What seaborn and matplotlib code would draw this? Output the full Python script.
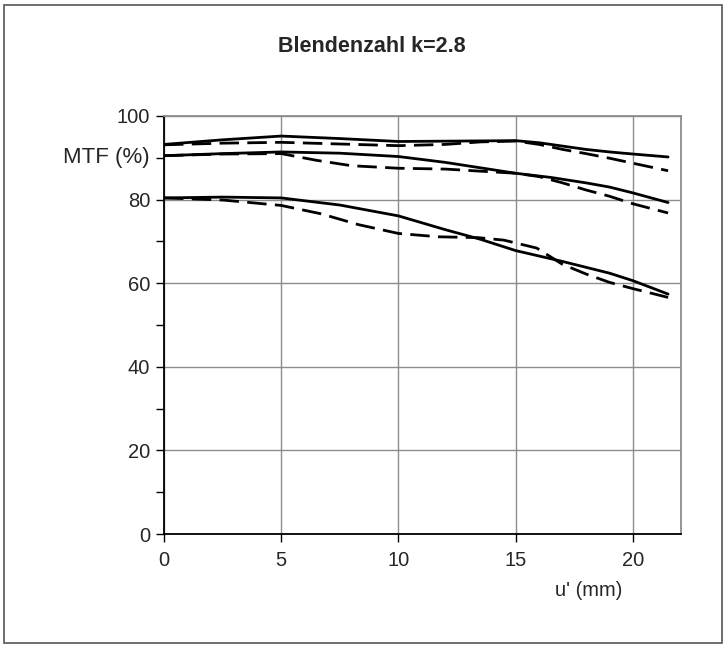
import numpy as np
import pandas as pd
import matplotlib
matplotlib.use('Agg')
import matplotlib.pyplot as plt
import seaborn as sns
from matplotlib.patches import Rectangle
from matplotlib.ticker import MultipleLocator

sns.set_style('white')
plt.rcParams['font.family'] = ['Liberation Sans', 'DejaVu Sans']

# MTF-Kurven, je Ortsfrequenz eine durchgezogene und eine gestrichelte Kurve
u_top_s = [0, 2.5, 5, 7.5, 10, 12.5, 15, 16, 17, 18, 19, 20, 21.5]
mtf_top_s = [93.2, 94.3, 95.2, 94.6, 93.9, 94.0, 94.1, 93.6, 92.8, 92.0, 91.4, 90.9, 90.2]
u_top_d = [0, 2.5, 5, 7.5, 10, 12, 13.5, 15, 16, 17, 18, 19, 20, 21.5]
mtf_top_d = [93.1, 93.5, 93.7, 93.3, 92.9, 93.2, 93.8, 94.0, 93.2, 92.0, 91.0, 89.9, 88.7, 86.9]

u_mid_s = [0, 2.5, 5, 7.5, 10, 12, 13.5, 15, 16.5, 18, 19, 20, 21.5]
mtf_mid_s = [90.5, 91.0, 91.4, 91.1, 90.3, 88.9, 87.6, 86.3, 85.3, 84.0, 83.0, 81.6, 79.3]
u_mid_d = [0, 2.5, 5, 6.5, 8, 10, 12, 13.5, 15, 16, 17, 18, 19, 20, 21.5]
mtf_mid_d = [90.5, 90.9, 91.0, 89.4, 88.1, 87.5, 87.3, 86.8, 86.3, 85.5, 84.0, 82.3, 80.8, 79.0, 76.8]

u_low_s = [0, 2.5, 5, 7.5, 10, 12, 13.5, 15, 17, 19, 20, 21.5]
mtf_low_s = [80.4, 80.6, 80.4, 78.7, 76.1, 72.8, 70.5, 67.8, 65.2, 62.4, 60.6, 57.4]
u_low_d = [0, 2.5, 5, 6.7, 8.3, 10, 11.7, 13.4, 14.5, 15.9, 17, 18, 19, 20, 21.5]
mtf_low_d = [80.4, 79.9, 78.6, 76.6, 74.0, 71.9, 71.1, 70.9, 70.3, 68.4, 64.5, 62.2, 60.2, 58.7, 56.6]

curves = [
    ('oben', 'solid', u_top_s, mtf_top_s),
    ('oben', 'dashed', u_top_d, mtf_top_d),
    ('mitte', 'solid', u_mid_s, mtf_mid_s),
    ('mitte', 'dashed', u_mid_d, mtf_mid_d),
    ('unten', 'solid', u_low_s, mtf_low_s),
    ('unten', 'dashed', u_low_d, mtf_low_d),
]
rows = []
for name, kind, us, ms in curves:
    for u, m in zip(us, ms):
        rows.append({'u': u, 'mtf': m, 'curve': name + '_' + kind, 'kind': kind})
df = pd.DataFrame(rows)

fig = plt.figure(figsize=(7.28, 6.48), dpi=100)
ax = fig.add_axes([0.2253, 0.1759, 0.7101, 0.6451])

sns.lineplot(data=df, x='u', y='mtf', units='curve', style='kind', estimator=None,
             dashes={'solid': '', 'dashed': (7, 3)}, color='black', linewidth=2.0,
             sort=False, legend=False, ax=ax)

ax.set_xlim(0, 22.05)
ax.set_ylim(0, 100)
ax.set_xticks([0, 5, 10, 15, 20])
ax.set_yticks([0, 20, 40, 60, 80, 100])
ax.yaxis.set_minor_locator(MultipleLocator(10))
ax.grid(True, which='major', color='#8c8c8c', linewidth=1.0)
ax.set_axisbelow(True)
ax.tick_params(axis='both', which='major', direction='out', length=6, width=1,
               color='black', labelsize=14.5, pad=4, left=True, bottom=True)
ax.tick_params(axis='x', which='major', pad=6)
ax.tick_params(axis='y', which='minor', direction='out', length=6, width=1,
               color='black', left=True)
ax.set_xlabel('')
ax.set_ylabel('')
for side in ['left', 'bottom']:
    ax.spines[side].set_color('black')
    ax.spines[side].set_linewidth(1.3)
for side in ['top', 'right']:
    ax.spines[side].set_color('#8c8c8c')
    ax.spines[side].set_linewidth(1.3)

ax.text(-0.6, 90, 'MTF (%)', ha='right', va='center', fontsize=16)
fig.text(0.855, 0.089, "u' (mm)", ha='right', va='center', fontsize=14.5)
fig.text(0.511, 0.929, 'Blendenzahl k=2.8', ha='center', va='center', fontsize=15.5,
         fontweight='bold')

fig.patches.append(Rectangle((0.006, 0.007), 0.986, 0.985, transform=fig.transFigure,
                             fill=False, edgecolor='#555555', linewidth=1.2))

fig.savefig('out.png', dpi=100)
